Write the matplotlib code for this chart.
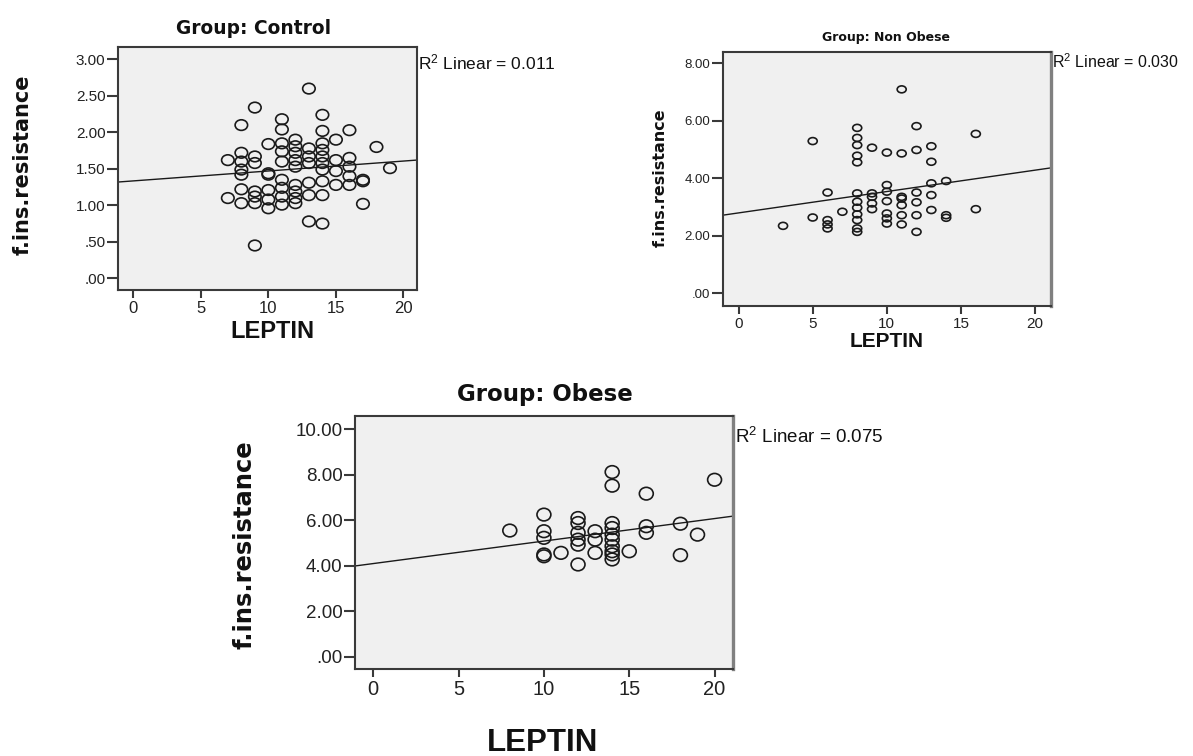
import matplotlib
matplotlib.use("Agg")
import matplotlib.pyplot as plt
from matplotlib.path import Path
from matplotlib.ticker import FuncFormatter

plt.rcParams['mathtext.fontset'] = 'custom'
plt.rcParams['mathtext.rm'] = 'Liberation Sans'
plt.rcParams['mathtext.it'] = 'Liberation Sans'

# LEPTIN vs f.ins.resistance, one scatter per group
control_leptin = [7, 7,
                  8, 8, 8, 8, 8, 8, 8,
                  9, 9, 9, 9, 9, 9, 9,
                  10, 10, 10, 10, 10, 10,
                  11, 11, 11, 11, 11, 11, 11, 11, 11,
                  12, 12, 12, 12, 12, 12, 12, 12, 12,
                  13, 13, 13, 13, 13, 13, 13,
                  14, 14, 14, 14, 14, 14, 14, 14, 14, 14,
                  15, 15, 15, 15,
                  16, 16, 16, 16, 16,
                  17, 17, 17,
                  18, 19]
control_ir = [1.62, 1.10,
              2.10, 1.72, 1.60, 1.49, 1.42, 1.22, 1.03,
              2.34, 1.67, 1.58, 1.19, 1.12, 1.03, 0.45,
              1.84, 1.44, 1.42, 1.21, 1.08, 0.96,
              2.18, 2.04, 1.85, 1.74, 1.60, 1.35, 1.24, 1.12, 1.01,
              1.90, 1.81, 1.72, 1.62, 1.53, 1.28, 1.19, 1.10, 1.03,
              2.60, 1.78, 1.67, 1.58, 1.31, 1.14, 0.78,
              2.24, 2.02, 1.85, 1.76, 1.67, 1.58, 1.49, 1.33, 1.14, 0.75,
              1.90, 1.62, 1.47, 1.28,
              2.03, 1.65, 1.53, 1.40, 1.28,
              1.35, 1.33, 1.02,
              1.80, 1.51]

nonobese_leptin = [3, 5, 5, 6, 6, 6, 6, 7,
                   8, 8, 8, 8, 8, 8, 8, 8, 8, 8, 8, 8,
                   9, 9, 9, 9, 9,
                   10, 10, 10, 10, 10, 10, 10,
                   11, 11, 11, 11, 11, 11, 11,
                   12, 12, 12, 12, 12, 12,
                   13, 13, 13, 13, 13,
                   14, 14, 14, 16, 16]
nonobese_ir = [2.35, 5.30, 2.64, 3.51, 2.55, 2.40, 2.26, 2.84,
               5.76, 5.41, 5.16, 4.79, 4.56, 3.48, 3.19, 2.98, 2.75, 2.55, 2.26, 2.14,
               5.07, 3.48, 3.36, 3.13, 2.93,
               4.90, 3.77, 3.54, 3.21, 2.78, 2.61, 2.43,
               7.10, 4.87, 3.36, 3.30, 3.07, 2.72, 2.40,
               5.82, 4.99, 3.51, 3.17, 2.72, 2.14,
               5.12, 4.58, 3.83, 3.42, 2.90,
               3.91, 2.72, 2.63, 5.55, 2.93]

obese_leptin = [8, 10, 10, 10, 10, 10, 11,
                12, 12, 12, 12, 12, 12,
                13, 13, 13,
                14, 14, 14, 14, 14, 14, 14, 14, 14, 14,
                15, 16, 16, 16, 18, 18, 19, 20]
obese_ir = [5.55, 6.25, 5.52, 5.23, 4.50, 4.42, 4.57,
            6.10, 5.88, 5.45, 5.15, 4.93, 4.06,
            5.52, 5.15, 4.57,
            8.12, 7.52, 5.88, 5.66, 5.37, 5.15, 4.86, 4.64, 4.50, 4.28,
            4.64, 7.17, 5.74, 5.45, 5.85, 4.47, 5.37, 7.78]

# fit lines (intercept, slope) and R squared
fit_control = (1.335, 0.0136)
fit_nonobese = (2.80, 0.0744)
fit_obese = (4.10, 0.0988)
r2_control = "0.011"
r2_nonobese = "0.030"
r2_obese = "0.075"

W, H = 1193, 756
fig = plt.figure(figsize=(W / 100, H / 100), dpi=100)


def px_axes(left, top, right, bottom):
    return fig.add_axes([left / W, 1 - bottom / H, (right - left) / W, (bottom - top) / H])


def fmt(v, pos):
    s = "%.2f" % v
    if s.startswith("0."):
        s = s[1:]
    return s


def oval(aspect):
    # slightly flattened circle marker
    c = Path.unit_circle()
    return Path(c.vertices * [aspect, 1.0], c.codes)


def panel(box, xs, ys, fit, r2, title, xlim, ylim, yticks, ms, aspect, ysize, xsize,
          title_xy, title_size, r2_xy, r2_size, ylab_xy, ylab_size, xlab_xy, xlab_size,
          right_edge='#3a3a3a', right_lw=1.5):
    ax = px_axes(*box)
    ax.set_facecolor('#f0f0f0')
    ax.scatter(xs, ys, s=ms ** 2, marker=oval(aspect), facecolors='none',
               edgecolors='#1a1a1a', linewidths=1.2, zorder=3)
    x0, x1 = xlim
    ax.plot([x0, x1], [fit[0] + fit[1] * x0, fit[0] + fit[1] * x1], color='#1a1a1a', lw=1.0, zorder=2)
    ax.set_xlim(xlim)
    ax.set_ylim(ylim)
    ax.set_xticks([0, 5, 10, 15, 20])
    ax.set_yticks(yticks)
    ax.yaxis.set_major_formatter(FuncFormatter(fmt))
    for sp in ax.spines.values():
        sp.set_color('#3a3a3a')
        sp.set_linewidth(1.5)
    ax.spines['right'].set_color(right_edge)
    ax.spines['right'].set_linewidth(right_lw)
    ax.tick_params(axis='y', length=8, width=1.5, color='#3a3a3a', pad=1)
    ax.tick_params(axis='x', length=6, width=1.5, color='#3a3a3a', pad=2)
    for lab in ax.get_yticklabels():
        lab.set_fontfamily('Liberation Sans')
        lab.set_fontsize(ysize)
        lab.set_color('#222222')
    for lab in ax.get_xticklabels():
        lab.set_fontfamily('Liberation Sans')
        lab.set_fontsize(xsize)
        lab.set_color('#222222')
    fig.text(title_xy[0] / W, 1 - title_xy[1] / H, title, ha='center', va='center',
             fontsize=title_size, fontweight='bold', family='DejaVu Sans', color='#111111')
    fig.text(r2_xy[0] / W, 1 - r2_xy[1] / H, r"R$^{2}$ Linear = " + r2, ha='left', va='center',
             fontsize=r2_size, family='Liberation Sans', color='#111111')
    fig.text(ylab_xy[0] / W, 1 - ylab_xy[1] / H, "f.ins.resistance", ha='center', va='center',
             rotation=90, fontsize=ylab_size, fontweight='bold', family='DejaVu Sans', color='#111111')
    fig.text(xlab_xy[0] / W, 1 - xlab_xy[1] / H, "LEPTIN", ha='center', va='center',
             fontsize=xlab_size, fontweight='bold', family='Liberation Sans', color='#111111')
    return ax


panel((118, 47, 417, 290), control_leptin, control_ir, fit_control, r2_control,
      "Group: Control", (-1.13, 21.0), (-0.16, 3.17), [0, 0.5, 1, 1.5, 2, 2.5, 3],
      9.0, 1.18, 11, 12,
      (254, 29), 13.4, (418, 62), 12.5, (23, 165), 15, (272, 331), 17)

panel((723, 52, 1051, 306), nonobese_leptin, nonobese_ir, fit_nonobese, r2_nonobese,
      "Group: Non Obese", (-1.05, 21.07), (-0.44, 8.40), [0, 2, 4, 6, 8],
      6.5, 1.3, 9.5, 11,
      (886, 38), 9, (1052, 62), 11.5, (660, 178), 11.5, (887, 342), 15,
      right_edge='#808080', right_lw=2.4)

panel((355, 416, 733, 669), obese_leptin, obese_ir, fit_obese, r2_obese,
      "Group: Obese", (-1.07, 21.08), (-0.53, 10.58), [0, 2, 4, 6, 8, 10],
      10.0, 1.1, 13.5, 14.5,
      (545, 395), 16.5, (735, 437), 13.5, (245, 545), 17.5, (543, 743), 22.5,
      right_edge='#808080', right_lw=2.4)

fig.savefig("out.png", dpi=100)
